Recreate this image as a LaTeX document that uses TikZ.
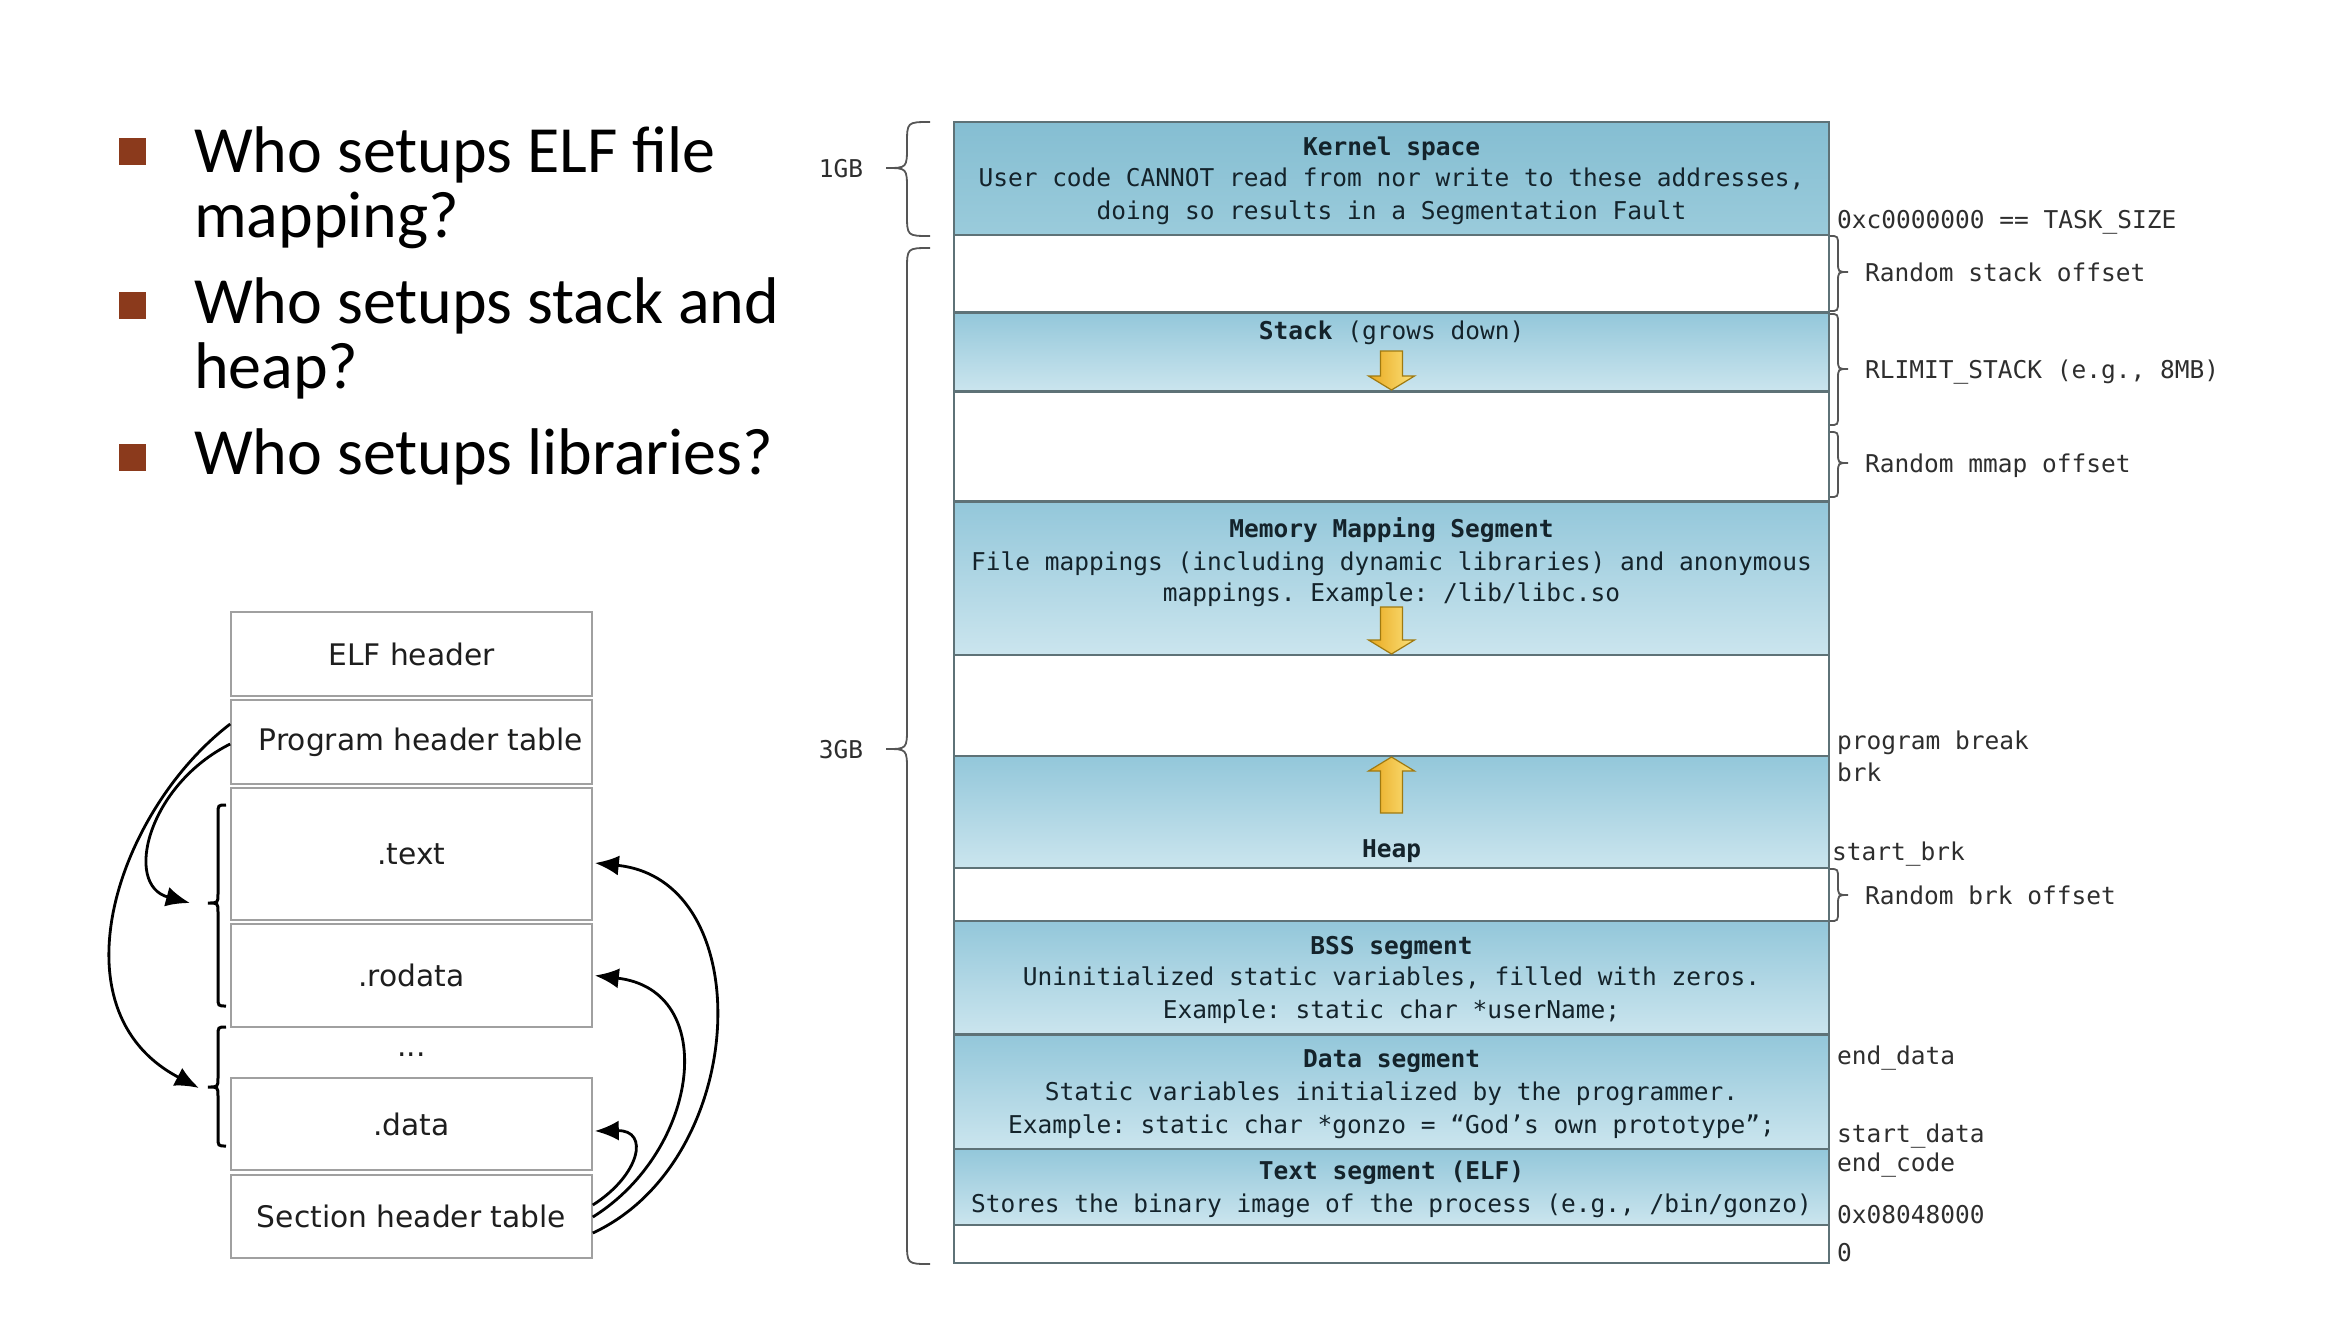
\documentclass[tikz,border=0pt]{standalone}
\usepackage{fontspec}
\setmainfont{DejaVu Sans}
\newfontfamily\bulletfont{Carlito}
\newfontfamily\elffont{DejaVu Sans}
\newfontfamily\monofont{DejaVu Sans Mono}
\usetikzlibrary{arrows.meta}
\frenchspacing
\definecolor{bulletred}{HTML}{8B3A1C}
\definecolor{segtop}{HTML}{93C7DA}
\definecolor{segbot}{HTML}{CBE5EE}
\definecolor{kerntop}{HTML}{85BED2}
\definecolor{kernbot}{HTML}{9ACBDB}
\definecolor{segborder}{HTML}{5E7277}
\definecolor{segtext}{HTML}{14232B}
\definecolor{addrtext}{HTML}{2E2E2E}
\definecolor{bracegray}{HTML}{555555}
\definecolor{elfgray}{HTML}{A0A0A0}
\definecolor{elftext}{HTML}{1E1E1E}
\definecolor{arrowdark}{HTML}{A07A10}
\definecolor{arrowleft}{HTML}{E9A81E}
\definecolor{arrowright}{HTML}{FBE27C}
% brace: xend, xmid, xtip, ytop, ytip, ybot, r, style
\newcommand{\curlybr}[8]{%
  \draw[#8] (#1,#4) .. controls (#2,#4) .. (#2,{#4+#7}) -- (#2,{#5-#7})
    .. controls (#2,#5) .. (#3,#5) .. controls (#2,#5) .. (#2,{#5+#7})
    -- (#2,{#6-#7}) .. controls (#2,#6) .. (#1,#6);}
\newcommand{\ydown}[3]{%
  \path[yarrow] ({#1-11},{#2-#3}) -- ({#1+11},{#2-#3}) -- ({#1+11},{#2-14})
    -- ({#1+23},{#2-14}) -- (#1,#2) -- ({#1-23},{#2-14}) -- ({#1-11},{#2-14}) -- cycle;}
\newcommand{\yup}[3]{%
  \path[yarrow] ({#1-11},{#2+#3}) -- ({#1+11},{#2+#3}) -- ({#1+11},{#2+14})
    -- ({#1+23},{#2+14}) -- (#1,#2) -- ({#1-23},{#2+14}) -- ({#1-11},{#2+14}) -- cycle;}
\begin{document}
\begin{tikzpicture}[x=1pt,y=-1pt,
  bullettext/.style={anchor=base west, inner sep=0, font=\bulletfont\fontsize{66}{66}\selectfont},
  bulletsq/.style={fill=bulletred, draw=none, minimum size=27pt, inner sep=0},
  elfbox/.style={draw=elfgray, line width=1.6pt, minimum width=361pt, inner sep=0,
     font=\elffont\fontsize{29.7}{34}\selectfont, text=elftext},
  seg/.style={draw=segborder, line width=2.5pt, minimum width=875pt, inner sep=0,
     top color=segtop, bottom color=segbot},
  kseg/.style={seg, top color=kerntop, bottom color=kernbot},
  blankseg/.style={draw=segborder, line width=2.5pt, minimum width=875pt, inner sep=0, fill=white},
  segtxt/.style={anchor=mid, inner sep=0, font=\monofont\fontsize{24.5}{30}\selectfont, text=segtext, yshift=-7pt},
  segtitle/.style={segtxt, font=\monofont\bfseries\fontsize{24.5}{30}\selectfont},
  addr/.style={anchor=mid west, inner sep=0, font=\monofont\fontsize{24.5}{30}\selectfont, text=addrtext, yshift=-7pt},
  gb/.style={anchor=mid, inner sep=0, font=\monofont\fontsize{24.5}{30}\selectfont, text=addrtext, yshift=-7pt},
  brc/.style={draw=bracegray, line width=1.8pt},
  elfbrc/.style={draw=black, line width=3pt},
  link/.style={draw=black, line width=2.8pt, -{Latex[length=24pt,width=20pt]}},
  yarrow/.style={left color=arrowleft, right color=arrowright, draw=arrowdark, line width=1.2pt}
]
\useasboundingbox (0,0) rectangle (2334,1336);

% ---------- bullets ----------
\node[bulletsq] (sq1) at (132.5,151.5) {};
\node[bulletsq] (sq2) at (132.5,305) {};
\node[bulletsq] (sq3) at (132.5,457) {};
\node[bullettext] (b1a) at (194,172) {Who setups ELF file};
\node[bullettext] (b1b) at (194,237) {mapping?};
\node[bullettext] (b2a) at (194,323) {Who setups stack and};
\node[bullettext] (b2b) at (194,388) {heap?};
\node[bullettext] (b3a) at (194,474) {Who setups libraries?};

% ---------- ELF file ----------
\node[elfbox, minimum height=84pt] (elf) at (411.5,654) {ELF header};
\node[elfbox, minimum height=84pt] (pht) at (411.5,742) {\hspace*{19pt}Program header table};
\node[elfbox, minimum height=132pt] (text) at (411.5,854) {.text};
\node[elfbox, minimum height=103pt] (rodata) at (411.5,975.5) {.rodata};
\node[anchor=mid, inner sep=0, font=\elffont\fontsize{29.7}{34}\selectfont, text=elftext] (dots) at (411.5,1054) {...};
\node[elfbox, minimum height=92pt] (data) at (411.5,1124) {.data};
\node[elfbox, minimum height=83pt] (sht) at (411.5,1216.5) {Section header table};

\curlybr{226}{218}{208}{805}{903}{1006}{9}{elfbrc}
\curlybr{226}{218}{208}{1027}{1087}{1146}{9}{elfbrc}
\coordinate (tip1) at (190,903);
\coordinate (tip2) at (199,1088);

\draw[link] ([yshift=18pt]pht.west) .. controls (118,810) and (50,1010) .. (tip2);
\draw[link] ([yshift=-2pt]pht.west) .. controls (148,785) and (123,885) .. (tip1);

\draw[link] ([yshift=11.5pt]sht.east) .. controls (640,1175) and (650,1130) .. ([xshift=2pt,yshift=-7pt]data.east);
\draw[link] ([yshift=-0.5pt]sht.east) .. controls (700,1150) and (720,990) .. ([xshift=2pt]rodata.east);
\draw[link] ([yshift=-16.5pt]sht.east) .. controls (750,1160) and (760,880) .. ([xshift=2pt,yshift=-9pt]text.east);

% ---------- memory layout ----------
\node[kseg, minimum height=113pt] (kern) at (1391.5,178.5) {};
\node[blankseg, minimum height=77.6pt] (g1) at (1391.5,273.8) {};
\node[seg, minimum height=78.9pt] (stack) at (1391.5,352) {};
\node[blankseg, minimum height=110.1pt] (g2) at (1391.5,446.5) {};
\node[seg, minimum height=153.4pt] (mmap) at (1391.5,578.3) {};
\node[blankseg, minimum height=101pt] (g3) at (1391.5,705.5) {};
\node[seg, minimum height=112pt] (heap) at (1391.5,812) {};
\node[blankseg, minimum height=53pt] (g4) at (1391.5,894.5) {};
\node[seg, minimum height=113.5pt] (bss) at (1391.5,977.7) {};
\node[seg, minimum height=114.5pt] (dseg) at (1391.5,1091.7) {};
\node[seg, minimum height=76pt] (tseg) at (1391.5,1187) {};
\node[blankseg, minimum height=38pt] (g5) at (1391.5,1244) {};

\node[segtitle] (k1) at (1391.5,146) {Kernel space};
\node[segtxt] (k2) at (1391.5,177) {User code CANNOT read from nor write to these addresses,};
\node[segtxt] (k3) at (1391.5,210) {doing so results in a Segmentation Fault};
\node[segtxt] (st) at (1391.5,330) {{\bfseries Stack} (grows down)};
\node[segtitle] (m1) at (1391.5,528) {Memory Mapping Segment};
\node[segtxt] (m2) at (1391.5,561) {File mappings (including dynamic libraries) and anonymous};
\node[segtxt] (m3) at (1391.5,592) {mappings. Example: /lib/libc.so};
\node[segtitle] (hp) at (1391.5,848) {Heap};
\node[segtitle] (bs1) at (1391.5,945) {BSS segment};
\node[segtxt] (bs2) at (1391.5,976) {Uninitialized static variables, filled with zeros.};
\node[segtxt] (bs3) at (1391.5,1009) {Example: static char *userName;};
\node[segtitle] (d1) at (1391.5,1058) {Data segment};
\node[segtxt] (d2) at (1391.5,1091) {Static variables initialized by the programmer.};
\node[segtxt] (d3) at (1391.5,1124) {Example: static char *gonzo = “God’s own prototype”;};
\node[segtitle] (t1) at (1391.5,1170) {Text segment (ELF)};
\node[segtxt] (t2) at (1391.5,1203) {Stores the binary image of the process (e.g., /bin/gonzo)};

\ydown{1391.5}{390}{39}
\ydown{1391.5}{654}{47}
\yup{1391.5}{757}{56}

% left braces
\curlybr{930}{907}{886}{122}{168}{236}{22}{brc}
\curlybr{930}{907}{886}{248}{749}{1264}{22}{brc}
\node[gb] (gb1) at (841,168) {1GB};
\node[gb] (gb3) at (841,749) {3GB};

% right braces
\curlybr{1830}{1838}{1848}{236}{272}{311}{10}{brc}
\curlybr{1830}{1838}{1848}{314}{369}{425}{10}{brc}
\curlybr{1830}{1838}{1848}{432}{463}{497}{10}{brc}
\curlybr{1830}{1838}{1848}{869}{895}{921}{10}{brc}

\node[addr] (a1) at (1837,219) {0xc0000000 == TASK\_SIZE};
\node[addr] (r1) at (1865,272) {Random stack offset};
\node[addr] (r2) at (1865,369) {RLIMIT\_STACK (e.g., 8MB)};
\node[addr] (r3) at (1865,463) {Random mmap offset};
\node[addr] (a2) at (1837,740) {program break};
\node[addr] (a3) at (1837,772) {brk};
\node[addr] (a4) at (1832,851) {start\_brk};
\node[addr] (r4) at (1865,895) {Random brk offset};
\node[addr] (a5) at (1837,1055) {end\_data};
\node[addr] (a6) at (1837,1133) {start\_data};
\node[addr] (a7) at (1837,1162) {end\_code};
\node[addr] (a8) at (1837,1214) {0x08048000};
\node[addr] (a9) at (1837,1252) {0};
\end{tikzpicture}
\end{document}
